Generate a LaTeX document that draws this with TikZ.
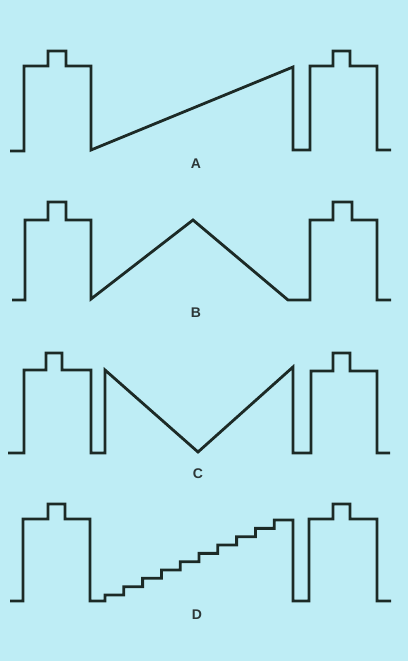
\documentclass[tikz,border=0pt]{standalone}
\usepackage{fontspec}
\setmainfont{Liberation Sans}
\definecolor{bgc}{RGB}{190,237,245}
\definecolor{ink}{RGB}{28,42,38}
\definecolor{lab}{RGB}{45,55,55}
\begin{document}
\begin{tikzpicture}[x=1pt,y=-1pt,
  wave/.style={draw=ink,line width=2.8pt,line join=miter,line cap=butt},
  lbl/.style={text=lab,font=\fontsize{14}{14}\selectfont\bfseries,inner sep=0pt}]
\fill[bgc] (0,0) rectangle (408,661);
\useasboundingbox (0,0) rectangle (408,661);
% A
\draw[wave] (10,151) -- (24,151) -- (24,66) -- (48,66) -- (48,51) -- (66,51) -- (66,66) -- (91,66) -- (91,150)
  -- (293,67) -- (293,150) -- (310,150) -- (310,66) -- (333,66) -- (333,51) -- (350,51) -- (350,66) -- (377,66) -- (377,150) -- (391,150);
\node[lbl] (la) at (196,164) {A};
% B
\draw[wave] (12,300) -- (25,300) -- (25,220) -- (48,220) -- (48,202) -- (66,202) -- (66,220) -- (91,220) -- (91,299)
  -- (193,220) -- (288,300) -- (310,300) -- (310,220) -- (333,220) -- (333,202) -- (352,202) -- (352,220) -- (377,220) -- (377,300) -- (391,300);
\node[lbl] (lb) at (196,313) {B};
% C
\draw[wave] (8,453) -- (24,453) -- (24,370) -- (46,370) -- (46,353) -- (62,353) -- (62,370) -- (91,370) -- (91,453)
  -- (105,453) -- (105,370) -- (198,452) -- (293,367) -- (293,453) -- (311,453) -- (311,371) -- (333,371) -- (333,353) -- (350,353) -- (350,371) -- (377,371) -- (377,453) -- (390,453);
\node[lbl] (lc) at (198,474) {C};
% D
\draw[wave] (10,601) -- (23,601) -- (23,519) -- (48,519) -- (48,504) -- (65,504) -- (65,519) -- (90,519) -- (90,601)
  -- (105,601)
  \foreach \k in {0,...,9}{ -- ({105+18.8*\k},{595-8.33*\k}) -- ({123.8+18.8*\k},{595-8.33*\k}) }
  -- (293,601) -- (309,601) -- (309,519) -- (333,519) -- (333,504) -- (350,504) -- (350,519) -- (377,519) -- (377,601) -- (391,601);
\node[lbl] (ld) at (197,615) {D};
\end{tikzpicture}
\end{document}
